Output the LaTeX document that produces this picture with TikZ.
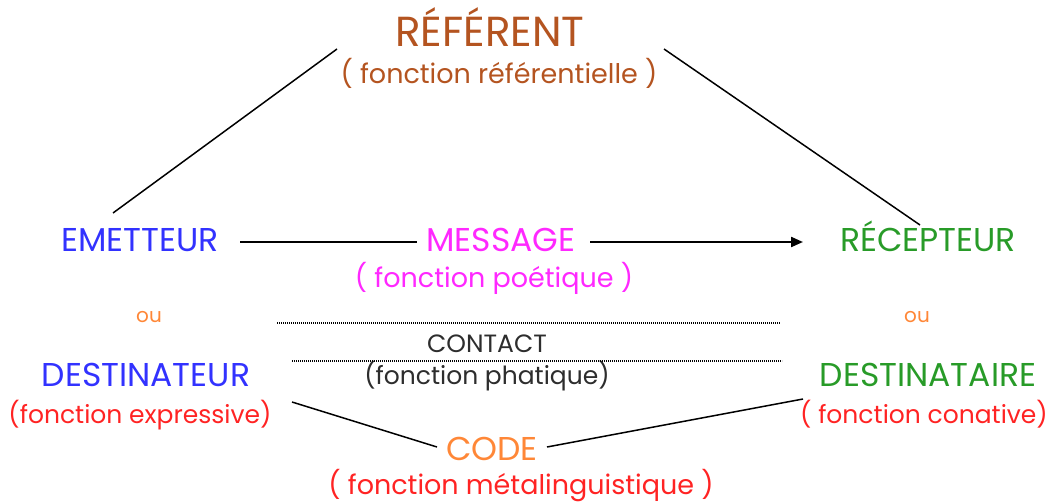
\documentclass[tikz,border=0pt]{standalone}
\usepackage{fontspec}
\setmainfont{Poppins}
\usepackage{tikz}
\usetikzlibrary{arrows.meta, positioning, calc}
\definecolor{refcolor}{RGB}{180,84,32}
\definecolor{sendcolor}{RGB}{50,50,255}
\definecolor{msgcolor}{RGB}{255,40,255}
\definecolor{recvcolor}{RGB}{40,155,40}
\definecolor{codecolor}{RGB}{255,135,55}
\definecolor{fncolor}{RGB}{255,35,35}
\definecolor{contactcolor}{RGB}{45,45,45}

\begin{document}
\begin{tikzpicture}[x=1pt, y=-1pt,
    lbl/.style={inner sep=0pt, anchor=base},
    title/.style={lbl, font=\fontsize{33}{36}\selectfont},
    fn/.style={lbl, font=\fontsize{27}{30}\selectfont},
    fnsmall/.style={lbl, font=\fontsize{25}{28}\selectfont},
    small/.style={lbl, font=\fontsize{20}{22}\selectfont},
    link/.style={line width=1.5pt},
    dots/.style={line width=1.2pt, dash pattern=on 0.8pt off 1.2pt},
    >={Triangle[length=12pt, width=10pt]}
  ]
  \useasboundingbox (0,0) rectangle (1049,503);

  % top of the triangle
  \node[lbl, font=\fontsize{42}{46}\selectfont, text=refcolor] (referent) at (490,47) {RÉFÉRENT};
  \node[fn, text=refcolor] (refFn) at (499,83) {( fonction référentielle )};

  % middle row
  \node[title, text=sendcolor] (emetteur) at (140,251) {EMETTEUR};
  \node[title, text=msgcolor] (message) at (501,251) {MESSAGE};
  \node[fn, text=msgcolor] (poetic) at (494,287) {( fonction poétique )};
  \node[title, text=recvcolor] (recepteur) at (928,251) {RÉCEPTEUR};

  \node[small, text=codecolor] (ouL) at (149,322) {ou};
  \node[small, text=codecolor] (ouR) at (917,322) {ou};

  \node[fnsmall, text=contactcolor] (contact) at (487,352) {CONTACT};
  \node[fnsmall, text=contactcolor] (phatic) at (487,384) {(fonction phatique)};

  \node[title, text=sendcolor] (destinateur) at (146,386) {DESTINATEUR};
  \node[fnsmall, text=fncolor] (expressive) at (140,423) {(fonction expressive)};
  \node[title, text=recvcolor] (destinataire) at (928,386) {DESTINATAIRE};
  \node[fnsmall, text=fncolor] (conative) at (924,423) {( fonction conative)};

  % bottom
  \node[title, text=codecolor] (code) at (492,460) {CODE};
  \node[fn, text=fncolor] (metaling) at (521,494) {( fonction métalinguistique )};

  % sides of the triangle
  \draw[link] ([shift={(-27,-38)}]emetteur.base) -- ([shift={(-153,2)}]referent.base);
  \draw[link] ([shift={(174,2)}]referent.base) -- ([shift={(-8,-26)}]recepteur.base);

  % message line
  \draw[link] ([shift={(100,-9)}]emetteur.base) -- ([shift={(-84,-9)}]message.base);
  \draw[->, line width=2.2pt] ([shift={(89,-9)}]message.base) -- ([shift={(-125,-9)}]recepteur.base);

  % contact channel
  \draw[dots] ([shift={(-210,-29)}]contact.base) -- ([shift={(293,-29)}]contact.base);
  \draw[dots] ([shift={(-195,9)}]contact.base) -- ([shift={(295,9)}]contact.base);

  % code lines
  \draw[link] ([shift={(152,-21)}]expressive.base) -- ([shift={(-55,-13)}]code.base);
  \draw[link] ([shift={(55,-13)}]code.base) -- ([shift={(-121,-24)}]conative.base);
\end{tikzpicture}
\end{document}
